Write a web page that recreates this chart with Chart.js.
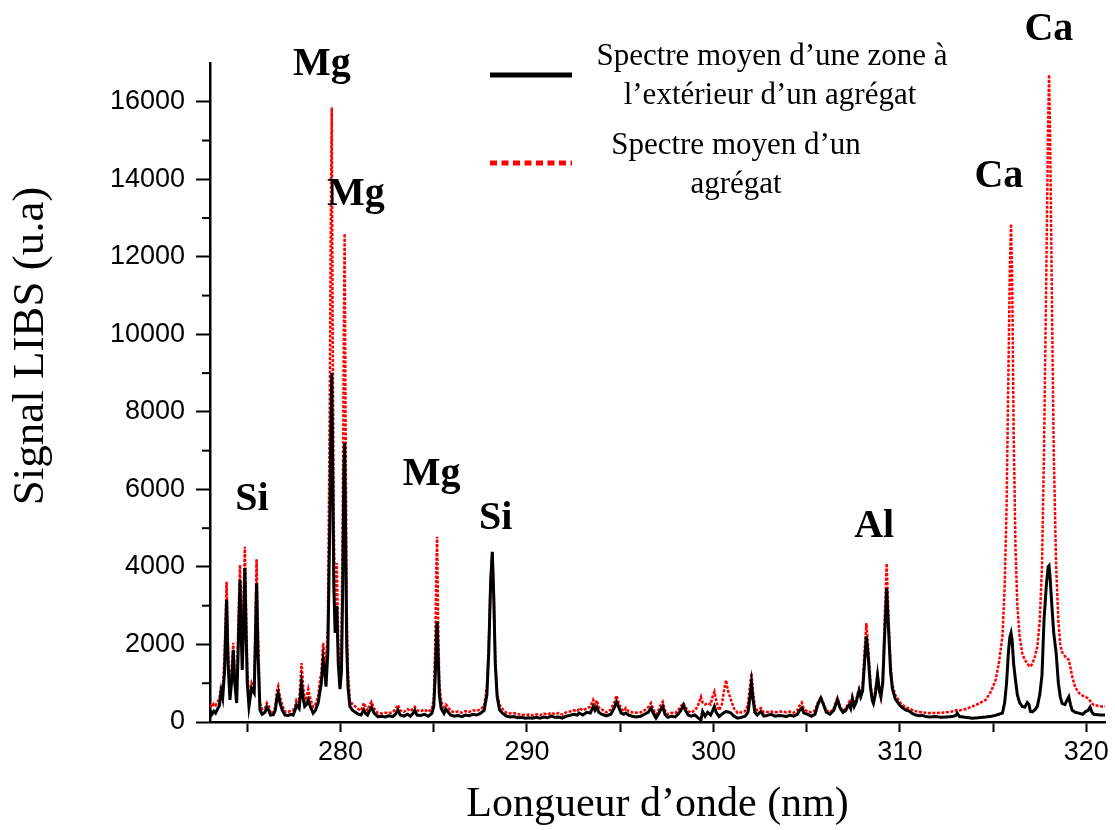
<!DOCTYPE html>
<html><head><meta charset="utf-8">
<script src="https://cdn.jsdelivr.net/npm/chart.js@4.4.1/dist/chart.umd.min.js"></script>
<style>html,body{margin:0;padding:0;background:#fff}#wrap{width:1115px;height:830px;position:relative}</style>
</head><body><div id="wrap"><canvas id="c"></canvas></div>
<script>
// ---- DATA ----
const wavelength = [273.00,273.10,273.20,273.30,273.40,273.50,273.60,273.68,273.78,273.89,273.97,274.07,274.17,274.25,274.33,274.43,274.52,274.61,274.67,274.73,274.80,274.87,274.94,275.00,275.09,275.23,275.37,275.44,275.50,275.57,275.68,275.80,275.95,276.05,276.15,276.25,276.40,276.50,276.60,276.66,276.75,276.88,277.02,277.20,277.35,277.46,277.56,277.64,277.78,277.91,278.00,278.08,278.18,278.27,278.38,278.53,278.65,278.80,278.90,278.97,279.07,279.16,279.22,279.32,279.42,279.48,279.53,279.58,279.64,279.71,279.80,279.88,279.97,280.05,280.12,280.18,280.22,280.27,280.33,280.40,280.50,280.65,280.80,280.95,281.10,281.25,281.35,281.45,281.55,281.66,281.80,282.00,282.20,282.40,282.60,282.80,282.95,283.08,283.20,283.40,283.60,283.75,283.90,283.98,284.10,284.30,284.50,284.70,284.90,285.00,285.08,285.14,285.18,285.23,285.30,285.40,285.55,285.65,285.75,285.90,286.10,286.30,286.50,286.70,286.90,287.10,287.30,287.50,287.70,287.85,287.95,288.05,288.14,288.22,288.30,288.40,288.53,288.70,288.89,289.10,289.30,289.50,289.70,289.90,290.10,290.30,290.50,290.70,290.90,291.10,291.30,291.50,291.70,291.90,292.10,292.30,292.50,292.70,292.80,293.00,293.20,293.40,293.55,293.65,293.75,293.85,294.00,294.25,294.50,294.70,294.80,294.92,295.05,295.20,295.30,295.45,295.65,295.85,296.10,296.30,296.50,296.65,296.80,296.92,297.05,297.15,297.28,297.40,297.55,297.75,297.95,298.10,298.25,298.39,298.50,298.65,298.80,299.00,299.15,299.33,299.42,299.55,299.69,299.85,299.95,300.05,300.15,300.30,300.45,300.60,300.68,300.78,300.94,301.10,301.30,301.50,301.70,301.85,301.95,302.04,302.12,302.22,302.35,302.54,302.70,302.90,303.08,303.30,303.50,303.70,303.90,304.10,304.30,304.50,304.62,304.74,304.85,305.05,305.25,305.45,305.60,305.76,305.90,306.05,306.25,306.45,306.65,306.80,306.95,307.10,307.20,307.28,307.36,307.45,307.55,307.65,307.75,307.81,307.90,308.00,308.10,308.20,308.30,308.42,308.52,308.58,308.68,308.80,308.90,308.98,309.08,309.18,309.29,309.40,309.50,309.60,309.75,309.92,310.05,310.20,310.30,310.50,310.66,310.85,311.05,311.20,311.38,311.60,311.91,312.20,312.50,312.80,313.00,313.07,313.20,313.50,313.88,314.20,314.60,314.90,315.13,315.30,315.50,315.62,315.72,315.82,315.90,315.96,316.02,316.10,316.20,316.30,316.42,316.56,316.70,316.83,316.92,317.00,317.10,317.25,317.37,317.50,317.62,317.73,317.85,317.95,318.00,318.06,318.15,318.25,318.38,318.50,318.60,318.70,318.85,318.95,319.06,319.15,319.24,319.40,319.60,319.80,319.96,320.10,320.20,320.30,320.40,320.60,320.80,321.00];

const outsideSignal = [300,200,280,230,330,420,800,620,1300,3150,1500,570,1100,1860,1000,490,2000,3660,2300,1340,2500,3970,2200,1000,400,870,750,2200,3580,1800,310,200,250,390,300,180,190,300,650,750,500,300,180,170,200,180,300,440,350,1000,600,400,450,570,400,230,300,490,800,1000,1600,1300,910,1800,5000,7500,9000,6500,3500,2300,3000,1500,850,1300,3500,6500,7200,5000,2000,900,400,300,250,200,180,310,220,180,280,380,230,140,150,130,160,140,200,310,180,150,200,150,230,300,180,170,200,150,220,400,1200,2200,2590,1800,700,350,220,330,270,180,150,170,140,180,160,200,180,220,300,700,1800,3600,4390,3200,1500,650,310,220,155,130,140,110,120,100,110,100,120,100,130,110,150,120,130,100,150,170,200,180,230,180,250,230,400,300,380,250,200,160,200,380,520,380,230,200,230,180,150,130,150,200,250,360,200,100,200,300,400,200,120,150,130,200,300,440,300,180,150,180,120,50,270,150,250,180,280,400,250,140,200,250,270,260,230,150,100,120,150,250,600,1000,600,250,180,270,150,170,200,150,170,160,140,180,150,200,300,360,230,200,150,200,450,620,450,250,200,300,570,350,250,300,400,440,350,600,400,500,700,810,650,800,1500,2200,1700,900,550,480,700,1210,800,650,1000,2200,3450,2300,1300,850,600,480,400,350,310,280,220,180,160,170,140,130,140,120,130,140,170,230,140,120,100,110,130,150,170,200,230,500,1000,1800,2200,2300,2100,1500,1080,700,500,400,380,500,450,270,260,320,400,700,1200,2630,3500,4000,4030,3700,3000,2300,1780,1000,650,480,450,550,650,450,300,250,230,200,270,300,380,250,200,190,180,180];

const aggregateSignal = [450,380,470,430,520,600,950,800,1700,3620,1900,750,1400,2040,1200,650,2600,4050,2800,1690,3200,4520,2800,1400,570,1000,820,2800,4200,2400,490,330,350,490,420,230,250,400,850,930,650,420,270,260,300,310,400,570,500,1520,900,550,650,850,600,390,450,650,1100,1260,2040,1700,1340,2500,8000,13000,15850,10000,5000,3000,4100,2000,1300,2000,5500,10000,12600,8000,3000,1300,570,450,400,330,300,490,380,300,430,520,350,230,220,240,230,250,330,440,300,260,330,280,350,390,300,280,320,260,330,600,2000,4000,4780,2800,1000,520,380,450,400,290,250,270,240,280,260,300,290,320,420,900,2000,3700,4380,3300,1600,750,440,330,240,220,230,200,190,180,190,170,200,180,220,190,240,200,230,190,250,270,300,280,360,300,350,400,570,430,560,380,330,250,320,530,680,500,340,280,360,270,250,240,250,300,380,490,300,200,300,420,520,300,200,240,230,300,400,490,380,280,240,300,400,650,500,450,490,450,650,780,550,300,450,900,1080,800,570,350,230,250,280,450,900,1260,800,400,300,360,250,260,270,250,260,270,250,270,240,300,420,500,330,270,250,300,500,650,480,300,250,350,620,400,280,350,450,520,420,650,480,550,760,850,700,900,1800,2550,1950,1000,650,570,800,1210,850,650,1100,2600,4090,2600,1500,950,700,570,480,420,380,350,310,280,260,250,240,230,230,240,250,270,300,310,300,330,400,470,570,800,1080,1500,2200,3500,5500,9000,11800,12850,11500,7500,4500,3000,2200,1780,1600,1520,1450,1430,1500,1700,1940,2600,4000,7000,11500,15500,16700,15000,11000,7000,4000,2600,2000,1800,1700,1650,1600,1400,1170,900,750,680,650,600,550,480,440,420,400,400];

const xTickValues = [275,280,285,290,295,300,305,310,315,320];
const yTickValues = [0,1000,2000,3000,4000,5000,6000,7000,8000,9000,10000,11000,12000,13000,14000,15000,16000];
const seriesNames = ["Spectre moyen d’une zone à l’extérieur d’un agrégat", "Spectre moyen d’un agrégat"];
const legendLines = [["Spectre moyen d’une zone à", "l’extérieur d’un agrégat"], ["Spectre moyen d’un", "agrégat"]];
const peakLabels = ["Mg","Mg","Si","Mg","Si","Al","Ca","Ca"];
const peakLabelX = [279.0, 280.82, 275.25, 284.89, 288.32, 308.62, 315.31, 317.99];
const peakLabelY = [16950, 13600, 5730, 6370, 5240, 5030, 14060, 17850];
const xTitle = "Longueur d’onde (nm)";
const yTitle = "Signal LIBS (u.a)";

// ---- CHART ----
const toPts = arr => arr.map((v, i) => ({x: wavelength[i], y: v}));

const decor = {
  id: 'decor',
  afterDraw(chart) {
    const {ctx, scales: {x, y}, chartArea} = chart;
    ctx.save();
    // minor y ticks
    ctx.strokeStyle = '#000'; ctx.lineWidth = 2;
    yTickValues.forEach(v => {
      if (v % 2000 !== 0) {
        const py = y.getPixelForValue(v);
        ctx.beginPath(); ctx.moveTo(chartArea.left - 8, py); ctx.lineTo(chartArea.left, py); ctx.stroke();
      }
    });
    // y title
    ctx.save();
    ctx.translate(31, 346);
    ctx.rotate(-Math.PI / 2);
    ctx.font = '45px "Liberation Serif"';
    ctx.fillStyle = '#000'; ctx.textAlign = 'center'; ctx.textBaseline = 'middle';
    ctx.fillText(yTitle, 0, 0);
    ctx.restore();
    // legend
    ctx.strokeStyle = '#000'; ctx.lineWidth = 5; ctx.setLineDash([]);
    ctx.beginPath(); ctx.moveTo(490, 75); ctx.lineTo(572, 75); ctx.stroke();
    ctx.strokeStyle = '#ff0000'; ctx.lineWidth = 5; ctx.setLineDash([7, 4.5]);
    ctx.beginPath(); ctx.moveTo(490, 163); ctx.lineTo(572, 163); ctx.stroke();
    ctx.setLineDash([]);
    ctx.font = '31px "Liberation Serif"';
    ctx.fillStyle = '#000'; ctx.textAlign = 'center'; ctx.textBaseline = 'middle';
    ctx.fillText(legendLines[0][0], 772, 57);
    ctx.fillText(legendLines[0][1], 770, 96);
    ctx.fillText(legendLines[1][0], 736, 146);
    ctx.fillText(legendLines[1][1], 736, 185);
    // peak labels
    ctx.font = 'bold 40px "Liberation Serif"';
    peakLabels.forEach((t, i) => {
      ctx.fillText(t, x.getPixelForValue(peakLabelX[i]), y.getPixelForValue(peakLabelY[i]));
    });
    ctx.restore();
  }
};

new Chart(document.getElementById('c'), {
  type: 'line',
  data: {
    datasets: [
      { label: seriesNames[0], data: toPts(outsideSignal), borderColor: '#000', borderWidth: 3, pointRadius: 0, tension: 0, fill: false },
      { label: seriesNames[1], data: toPts(aggregateSignal), borderColor: '#ff0000', borderWidth: 2.5, borderDash: [3, 1.5], pointRadius: 0, tension: 0, fill: false }
    ]
  },
  options: {
    responsive: true, maintainAspectRatio: false, animation: false,
    layout: { padding: { top: 63, right: 10, left: 0, bottom: 0 } },
    plugins: { legend: { display: false }, tooltip: { enabled: false } },
    scales: {
      x: {
        type: 'linear', min: 273, max: 321,
        afterBuildTicks: s => { s.ticks = xTickValues.map(v => ({value: v})); },
        afterFit: s => { s.height = 108; },
        ticks: { autoSkip: false, maxRotation: 0, padding: 4, color: '#000',
          font: { family: '"Liberation Sans", Arial', size: 27 },
          callback: v => (v % 10 === 0 ? String(v) : '') },
        grid: { drawOnChartArea: false, drawTicks: true, tickLength: 10, tickWidth: 2, tickColor: '#000' },
        border: { color: '#000', width: 2.5 },
        title: { display: true, text: xTitle, color: '#000', padding: { top: 0, bottom: 0 },
          font: { family: '"Liberation Serif"', size: 42, weight: 'normal' } }
      },
      y: {
        min: 0, max: 17000,
        afterBuildTicks: s => { s.ticks = yTickValues.map(v => ({value: v})); },
        afterFit: s => { s.width = 210; },
        ticks: { autoSkip: false, padding: 11, color: '#000',
          font: { family: '"Liberation Sans", Arial', size: 27 },
          callback: v => (v % 2000 === 0 ? String(v) : '') },
        grid: { drawOnChartArea: false, drawTicks: true, tickLength: 14, tickWidth: 2,
          tickColor: c => (c.tick && c.tick.value % 2000 === 0 ? '#000' : 'rgba(0,0,0,0)') },
        border: { color: '#000', width: 2.5 }
      }
    }
  },
  plugins: [decor]
});
</script></body></html>
